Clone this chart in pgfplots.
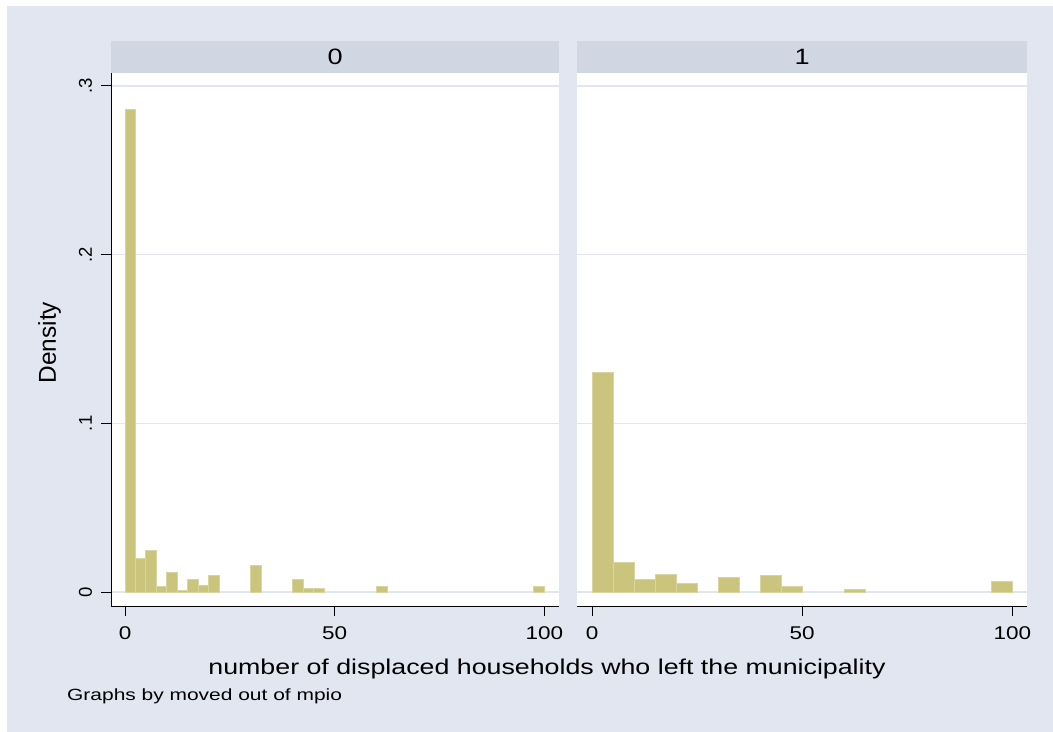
\documentclass[border=0pt]{standalone}
\usepackage{fontspec}
\setmainfont{Liberation Sans}
\newfontfamily\wide[FakeStretch=1.22]{Liberation Sans}
\newfontfamily\widetitle[FakeStretch=1.25]{Liberation Sans}
\newfontfamily\widenote[FakeStretch=1.29]{Liberation Sans}
\usepackage{pgfplots}
\pgfplotsset{compat=1.18}

\definecolor{bgcol}{RGB}{225,230,240}
\definecolor{stripcol}{RGB}{208,215,227}
\definecolor{barfill}{RGB}{203,196,125}
\definecolor{baredge}{RGB}{218,213,160}

\pgfplotsset{
  panel/.style={
    scale only axis, height=533.5bp,
    ymin=-0.0086, ymax=0.3077,
    axis x line*=bottom, axis y line*=left,
    axis line style={black, line width=1bp},
    tick align=outside, major tick length=9.5bp,
    tick style={black, line width=1bp},
    xtick={0,50,100}, xticklabels={0,50,100},
    ytick={0,0.1,0.2,0.3},
    ymajorgrids, grid style={bgcol, line width=1.6bp},
    xticklabel style={font=\wide\fontsize{18.5}{20}\selectfont, inner sep=0pt, yshift=-10.7bp},
    axis background/.style={fill=white},
  },
  hist/.style={ybar interval, fill=barfill, draw=baredge, line width=1bp},
}

\begin{document}
\begin{tikzpicture}
\fill[white] (0,0) rectangle (1053bp,-732bp);
\fill[bgcol] (7bp,-6bp) rectangle (1053bp,-732bp);
% strips
\fill[stripcol] (111bp,-41bp) rectangle (559.3bp,-72.7bp);
\fill[stripcol] (577.3bp,-41bp) rectangle (1027bp,-72.7bp);
\node[font=\wide\fontsize{22.3}{24}\selectfont] at (335.2bp,-56.8bp) {0};
\node[font=\wide\fontsize{22.3}{24}\selectfont] at (802.2bp,-56.8bp) {1};

% moved out = 0
\begin{axis}[panel, at={(111bp,-606.5bp)}, anchor=south west, width=448.3bp,
  xmin=-3.34, xmax=103.58,
  yticklabels={0,.1,.2,.3},
  yticklabel style={xshift=-9.5bp, rotate=90, anchor=base, inner sep=0pt,
    font=\fontsize{18.6}{20}\selectfont},
  ylabel={Density},
  every axis y label/.style={at={(rel axis cs:-0.1227,0.4948)}, rotate=90, anchor=base,
    font=\fontsize{24.5}{26}\selectfont}]
\addplot[hist] coordinates {(0,0.2862) (2.5,0.0196) (5,0.0246) (7.5,0.0032) (10,0.0116)
  (12.5,0.0011) (15,0.0076) (17.5,0.0036) (20,0.0096) (22.5,0)};
\addplot[hist] coordinates {(30,0.0156) (32.5,0)};
\addplot[hist] coordinates {(40,0.0076) (42.5,0.0022) (45,0.0022) (47.5,0)};
\addplot[hist] coordinates {(60,0.0032) (62.5,0)};
\addplot[hist] coordinates {(97.5,0.0032) (100,0)};
\end{axis}

% moved out = 1
\begin{axis}[panel, at={(577.3bp,-606.5bp)}, anchor=south west, width=449.7bp,
  xmin=-3.5, xmax=103.5,
  yticklabels={}, y axis line style={draw=none}, ytick style={draw=none}]
\addplot[hist] coordinates {(0,0.1304) (5,0.0173) (10,0.0076) (15,0.0106) (20,0.0050) (25,0)};
\addplot[hist] coordinates {(30,0.0086) (35,0)};
\addplot[hist] coordinates {(40,0.0095) (45,0.0032) (50,0)};
\addplot[hist] coordinates {(60,0.0016) (65,0)};
\addplot[hist] coordinates {(95,0.0061) (100,0)};
\end{axis}

\node[anchor=base, font=\widetitle\fontsize{21.5}{23}\selectfont] at (547bp,-674bp)
  {number of displaced households who left the municipality};
\node[anchor=base west, inner sep=0pt, font=\widenote\fontsize{16.3}{18}\selectfont] at (67bp,-700bp)
  {Graphs by moved out of mpio};

\pgfresetboundingbox
\path[use as bounding box] (0,0) rectangle (1053bp,-732bp);
\end{tikzpicture}
\end{document}
